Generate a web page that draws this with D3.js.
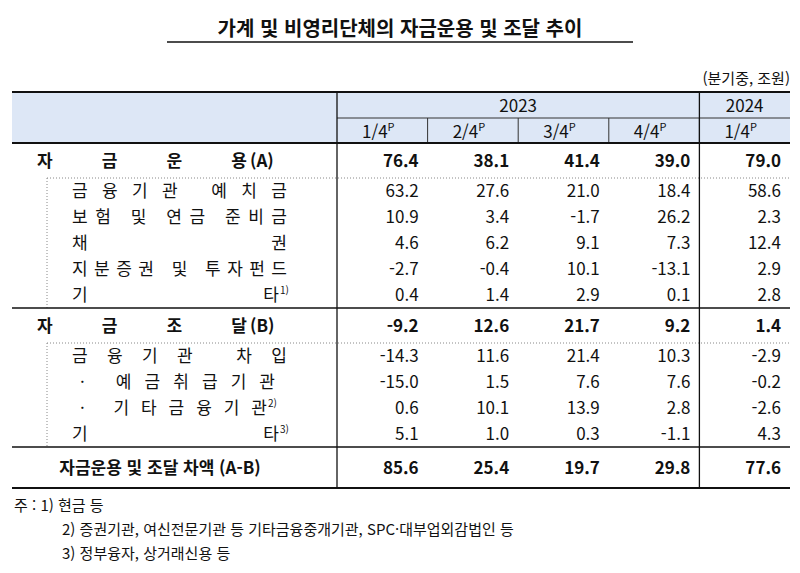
<!DOCTYPE html>
<html lang="ko"><head><meta charset="utf-8"/>
<script src="https://d3js.org/d3.v7.min.js"></script>
<style>
body{margin:0;width:800px;height:573px;background:#fff;font-family:'Noto Sans CJK KR','Noto Sans',sans-serif;}
svg text{fill:#111;}
</style></head><body>
<svg id="t" width="800" height="573"></svg>
<script>
const quarters = ["1/4", "2/4", "3/4", "4/4", "1/4 "];
const years = [{ label: "2023", from: 0, to: 3 }, { label: "2024", from: 4, to: 4 }];
const rowLabels = ["자금운용", "금융기관 예치금", "보험 및 연금 준비금", "채권", "지분증권 및 투자펀드", "기타",
  "자금조달", "금융기관 차입", "· 예금취급기관", "· 기타금융기관", "기타", "자금운용 및 조달 차액"];
const rowKinds = ["main", "sub", "sub", "sub", "sub", "sub", "main", "sub", "subI", "subI", "sub", "total"];
const rowTags = ["(A)", "", "", "", "", "1)", "(B)", "", "", "2)", "3)", "(A-B)"];
const values = [
  [76.4, 38.1, 41.4, 39.0, 79.0],
  [63.2, 27.6, 21.0, 18.4, 58.6],
  [10.9, 3.4, -1.7, 26.2, 2.3],
  [4.6, 6.2, 9.1, 7.3, 12.4],
  [-2.7, -0.4, 10.1, -13.1, 2.9],
  [0.4, 1.4, 2.9, 0.1, 2.8],
  [-9.2, 12.6, 21.7, 9.2, 1.4],
  [-14.3, 11.6, 21.4, 10.3, -2.9],
  [-15.0, 1.5, 7.6, 7.6, -0.2],
  [0.6, 10.1, 13.9, 2.8, -2.6],
  [5.1, 1.0, 0.3, -1.1, 4.3],
  [85.6, 25.4, 19.7, 29.8, 77.6]
];
const notes = ["주 : 1) 현금 등", "2) 증권기관, 여신전문기관 등 기타금융중개기관, SPC·대부업외감법인 등", "3) 정부융자, 상거래신용 등"];

const svg = d3.select("#t");
const L = 12, R = 790, C0 = 337, T0 = 92, H1 = 143;
const x = d3.scaleBand().domain(quarters).range([C0, R]);
const hgt = { main: 35, sub: 26, subI: 26, total: 41 };
let yy = H1;
const rows = rowLabels.map((l, i) => { const r = { l, k: rowKinds[i], tag: rowTags[i], v: values[i], y0: yy, h: hgt[rowKinds[i]] }; yy += r.h; return r; });
const B0 = yy;

// title
svg.append("text").attr("x", 400).attr("y", 36).attr("text-anchor", "middle")
  .style("font-size", "20px").style("font-weight", "bold").text("가계 및 비영리단체의 자금운용 및 조달 추이");
svg.append("line").attr("x1", 167).attr("x2", 633).attr("y1", 42).attr("y2", 42).attr("stroke", "#111").attr("stroke-width", 1.3);
svg.append("text").attr("x", R).attr("y", 84).attr("text-anchor", "end").style("font-size", "15px").text("(분기중, 조원)");

// header
svg.append("rect").attr("x", L).attr("y", T0).attr("width", R - L).attr("height", H1 - T0).attr("fill", "#dde7f6");
years.forEach(yr => {
  const a = x(quarters[yr.from]), b = x(quarters[yr.to]) + x.bandwidth();
  svg.append("text").attr("x", (a + b) / 2).attr("y", 112).attr("text-anchor", "middle").style("font-size", "17px").text(yr.label);
});
quarters.forEach(q => {
  const t = svg.append("text").attr("x", x(q) + x.bandwidth() / 2 - 4).attr("y", 138).attr("text-anchor", "middle").style("font-size", "17px").text(q.trim());
  t.append("tspan").attr("dy", -7).style("font-size", "11px").text("P");
});
svg.append("line").attr("x1", C0).attr("x2", R).attr("y1", 118).attr("y2", 118).attr("stroke", "#333");
quarters.slice(1).forEach(q => svg.append("line").attr("x1", x(q)).attr("x2", x(q)).attr("y1", 118).attr("y2", H1).attr("stroke", "#333"));

// body
rows.forEach(r => {
  const cy = r.y0 + r.h / 2 + 6;
  const bold = r.k === "main" || r.k === "total";
  const fs = "17px";
  if (r.k === "main") {
    svg.append("text").attr("x", 37).attr("y", cy).attr("textLength", 210).attr("lengthAdjust", "spacing")
      .style("font-size", fs).style("font-weight", "bold").text(r.l);
    svg.append("text").attr("x", 250).attr("y", cy).style("font-size", fs).style("font-weight", "bold").text(r.tag);
  } else if (r.k === "total") {
    svg.append("text").attr("x", 160).attr("y", cy).attr("text-anchor", "middle").style("font-size", fs).style("font-weight", "bold")
      .text(r.l + " " + r.tag);
  } else {
    const x0 = r.k === "subI" ? 80 : 72, x1 = r.k === "subI" ? 275 : 287;
    const tEnd = r.tag ? x1 - 8 : x1;
    svg.append("text").attr("x", x0).attr("y", cy).attr("textLength", tEnd - x0).attr("lengthAdjust", "spacing")
      .style("font-size", fs).text(r.l);
    if (r.tag) svg.append("text").attr("x", tEnd + 1).attr("y", cy - 7).style("font-size", "10px").text(r.tag);
  }
  r.v.forEach((v, j) => {
    svg.append("text").attr("x", x(quarters[j]) + x.bandwidth() - 9).attr("y", cy).attr("text-anchor", "end")
      .style("font-size", fs).style("font-weight", bold ? "bold" : "normal").text(d3.format(".1f")(v).replace("−", "-"));
  });
});

// dotted boxes for sub groups
[[1, 5], [7, 10]].forEach(([a, b]) => {
  const y0 = rows[a].y0, y1 = rows[b].y0 + rows[b].h;
  svg.append("line").attr("x1", 47).attr("x2", R).attr("y1", y0).attr("y2", y0).attr("stroke", "#888").attr("stroke-dasharray", "1,2");
  svg.append("line").attr("x1", 47).attr("x2", 47).attr("y1", y0).attr("y2", y1).attr("stroke", "#888").attr("stroke-dasharray", "1,2");
});

// solid rules
[T0, H1, rows[6].y0, rows[11].y0, B0].forEach(y => svg.append("line").attr("x1", L).attr("x2", R).attr("y1", y).attr("y2", y)
  .attr("stroke", "#111").attr("stroke-width", y === H1 || y === T0 || y === B0 ? 2.2 : 1.6));
[C0, x(quarters[4])].forEach(xv => svg.append("line").attr("x1", xv).attr("x2", xv).attr("y1", T0).attr("y2", B0).attr("stroke", "#111").attr("stroke-width", 1.3));

// notes
notes.forEach((n, i) => svg.append("text").attr("x", i === 0 ? 14 : 62).attr("y", 511 + i * 24).style("font-size", "15px").text(n));
</script>
</body></html>
